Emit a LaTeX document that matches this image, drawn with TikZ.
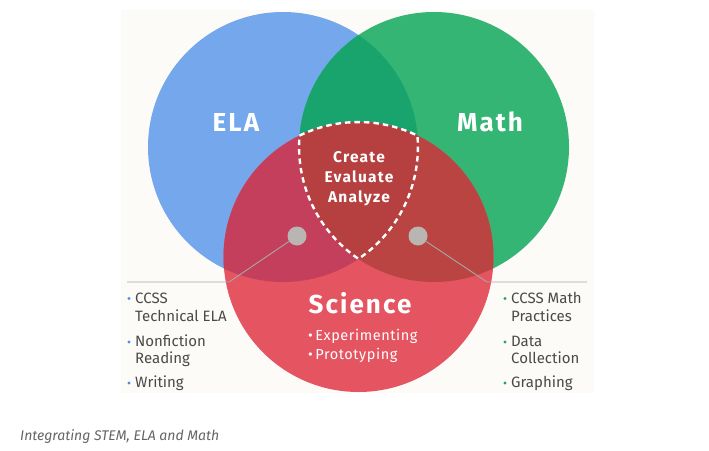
\documentclass[tikz,border=0pt]{standalone}
\usepackage{fontspec}
\setmainfont{Fira Sans}
\definecolor{elablue}{HTML}{74A7EC}
\definecolor{mathgreen}{HTML}{34B574}
\definecolor{dkgreen}{HTML}{19A46E}
\definecolor{scired}{HTML}{E55461}
\definecolor{redblue}{HTML}{C43F5B}
\definecolor{redgreen}{HTML}{B94442}
\definecolor{triple}{HTML}{B5403F}
\definecolor{dotgrey}{HTML}{B9B5B3}
\definecolor{linegrey}{HTML}{A8A8A8}
\definecolor{txtgrey}{HTML}{4A4A4A}
\definecolor{bulblue}{HTML}{4A8FE0}
\definecolor{bulgreen}{HTML}{1FA463}
\definecolor{paper}{HTML}{FDFBF8}
\begin{document}
\begin{tikzpicture}[x=1pt,y=1pt,
  title/.style={text=white,font=\fontsize{26}{30}\selectfont\bfseries\addfontfeatures{LetterSpace=8},inner sep=0pt,anchor=base},
  core/.style={text=white,font=\fontsize{15.5}{20}\selectfont\bfseries\addfontfeatures{LetterSpace=8},inner sep=0pt,anchor=base},
  scitxt/.style={text=white,font=\fontsize{14.5}{18}\selectfont\addfontfeatures{LetterSpace=4},inner sep=0pt,anchor=base west},
  listtxt/.style={text=txtgrey,font=\fontsize{15}{18}\selectfont,inner sep=0pt,anchor=base west},
  dotnode/.style={circle,fill=dotgrey,minimum size=19pt,inner sep=0pt},
  leader/.style={draw=linegrey,line width=0.9pt},
]
\useasboundingbox (0,0) rectangle (709,-450);
\fill[white] (0,0) rectangle (709,-450);
\fill[paper] (121,-10) rectangle (594,-393);
% centres
\coordinate (E) at (283,-147);
\coordinate (M) at (434,-147);
\coordinate (S) at (358.5,-257);
% circles
\fill[elablue] (E) circle (135);
\fill[mathgreen] (M) circle (135);
\begin{scope}\clip (E) circle (135); \fill[dkgreen] (M) circle (135);\end{scope}
\fill[scired] (S) circle (135);
\begin{scope}\clip (S) circle (135); \fill[redblue] (E) circle (135);\end{scope}
\begin{scope}\clip (S) circle (135); \fill[redgreen] (M) circle (135);\end{scope}
\begin{scope}\clip (S) circle (135); \clip (E) circle (135); \fill[triple] (M) circle (135);\end{scope}
% dashed core outline
\coordinate (C) at (299.5,-135.6);
\draw[white,line width=2.4pt,dash pattern=on 5.5pt off 4pt]
  (C) arc[start angle=115.9,end angle=64.1,radius=135]
      arc[start angle=4.84,end angle=-55.95,radius=135]
      arc[start angle=235.95,end angle=175.16,radius=135] -- cycle;
% leader lines and dots
\coordinate (lc) at (229,-282);
\coordinate (le) at (127,-282);
\coordinate (rc) at (487,-282);
\coordinate (re) at (587,-282);
\node[dotnode] (ld) at (297,-236) {};
\node[dotnode] (rd) at (418,-236) {};
\draw[leader] (ld) -- (lc) -- (le);
\draw[leader] (rd) -- (rc) -- (re);
% titles
\node[title] (ela) at (236,-131) {ELA};
\node[title] (math) at (490,-131) {Math};
\node[title] (sci) at (360,-313) {Science};
\node[core] (c1) at (359,-162) {Create};
\node[core] (c2) at (359,-182) {Evaluate};
\node[core] (c3) at (359,-202) {Analyze};
\node[scitxt] (s1) at (308,-340) {\textbullet\,Experimenting};
\node[scitxt] (s2) at (308,-359) {\textbullet\,Prototyping};
% left list
\fill[bulblue] (129,-298.5) circle (1.6);
\fill[bulblue] (129,-342) circle (1.6);
\fill[bulblue] (129,-383) circle (1.6);
\node[listtxt] (l1) at (135,-303) {CCSS};
\node[listtxt] (l2) at (135,-321.7) {Technical ELA};
\node[listtxt] (l3) at (135,-346.5) {Nonfiction};
\node[listtxt] (l4) at (135,-363.5) {Reading};
\node[listtxt] (l5) at (135,-387.5) {Writing};
% right list
\fill[bulgreen] (505,-298.5) circle (1.6);
\fill[bulgreen] (505,-342) circle (1.6);
\fill[bulgreen] (505,-383) circle (1.6);
\node[listtxt] (r1) at (511,-303) {CCSS Math};
\node[listtxt] (r2) at (511,-321.7) {Practices};
\node[listtxt] (r3) at (511,-346.5) {Data};
\node[listtxt] (r4) at (511,-363.5) {Collection};
\node[listtxt] (r5) at (511,-387.5) {Graphing};
% caption
\node[text=txtgrey!85,font=\fontsize{14}{16}\selectfont\itshape,inner sep=0pt,anchor=base west] (cap) at (20,-440.5) {Integrating STEM, ELA and Math};
\end{tikzpicture}
\end{document}
